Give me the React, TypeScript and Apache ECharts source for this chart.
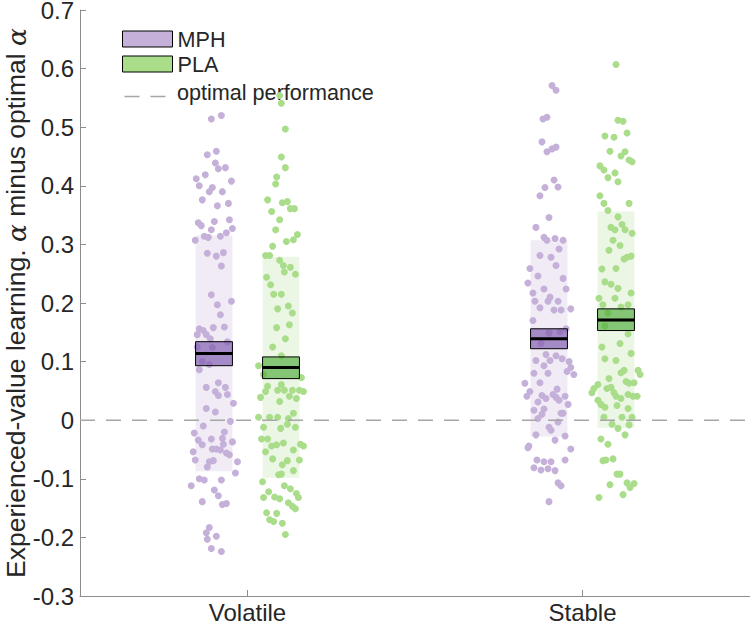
import React, { useEffect, useRef } from 'react';
import * as echarts from 'echarts';

const categories = ['Volatile', 'Stable'];
const categoryPositions = [1, 2];
const groupNames = ['MPH', 'PLA'];
const groupOffsets = [-0.1, 0.1];
const referenceLabel = 'optimal performance';
const referenceValue = 0;

// summary statistics [category][group]
const means = [[0.114, 0.09], [0.139, 0.171]];
const semLow = [[0.093, 0.071], [0.122, 0.153]];
const semHigh = [[0.134, 0.108], [0.156, 0.19]];
const sdLow = [[-0.087, -0.098], [-0.028, -0.013]];
const sdHigh = [[0.315, 0.279], [0.307, 0.356]];

// individual subjects: [jitter offset, value]
const volatileMPH = [
  [-0.008, 0.514], [0.022, 0.52], [-0.02, 0.453], [0.007, 0.459], [0.004, 0.439], [0.013, 0.429], [0.034, 0.431],
  [-0.026, 0.419], [-0.053, 0.412], [0.052, 0.408], [-0.044, 0.4], [-0.005, 0.397], [-0.014, 0.39], [0.025, 0.39],
  [-0.035, 0.376], [0.01, 0.366], [0.043, 0.37], [-0.047, 0.337], [-0.038, 0.332], [0.001, 0.339], [0.046, 0.342],
  [-0.008, 0.325], [0.055, 0.327], [0.037, 0.32], [-0.056, 0.307], [-0.029, 0.314], [-0.017, 0.312], [0.019, 0.314],
  [-0.02, 0.285], [0.007, 0.28], [0.028, 0.286], [0.022, 0.263], [-0.008, 0.214], [0.01, 0.197], [0.052, 0.203],
  [0.019, 0.18], [-0.044, 0.156], [-0.032, 0.153], [-0.002, 0.158], [0.031, 0.159], [-0.05, 0.146], [-0.023, 0.146],
  [-0.011, 0.139], [-0.05, 0.125], [-0.005, 0.124], [0.04, 0.134], [-0.035, 0.1], [-0.014, 0.095], [-0.044, 0.086],
  [0.013, 0.064], [-0.023, 0.056], [0.034, 0.056], [0.004, 0.049], [0.013, 0.042], [0.04, 0.044], [0.058, 0.029],
  [-0.023, 0.02], [0.004, 0.014], [0.049, -0.002], [-0.032, -0.01], [-0.059, -0.022], [0.031, -0.02], [-0.047, -0.034],
  [-0.035, -0.042], [-0.008, -0.032], [0.025, -0.031], [0.055, -0.037], [0.028, -0.041], [-0.062, -0.054], [-0.005, -0.049],
  [0.007, -0.049], [0.019, -0.051], [0.037, -0.056], [0.046, -0.059], [-0.056, -0.068], [-0.014, -0.071], [-0.002, -0.069],
  [-0.02, -0.08], [0.07, -0.071], [0.064, -0.09], [-0.044, -0.1], [-0.029, -0.102], [0.022, -0.102], [-0.068, -0.112],
  [0.001, -0.119], [0.013, -0.129], [-0.035, -0.139], [0.025, -0.144], [0.037, -0.142], [-0.014, -0.183], [-0.023, -0.192],
  [0.007, -0.198], [-0.02, -0.203], [-0.008, -0.219], [0.022, -0.224],
];

const volatilePLA = [
  [-0.004, 0.554], [0.001, 0.541], [0.013, 0.497], [0.001, 0.449], [0.013, 0.431], [-0.013, 0.415], [-0.016, 0.403],
  [-0.04, 0.376], [0.004, 0.371], [0.019, 0.373], [-0.028, 0.356], [0.028, 0.361], [0.04, 0.361], [-0.004, 0.342],
  [-0.016, 0.325], [0.049, 0.317], [0.037, 0.308], [0.016, 0.305], [-0.025, 0.297], [-0.046, 0.281], [-0.034, 0.281],
  [-0.004, 0.273], [0.007, 0.264], [0.028, 0.261], [0.01, 0.253], [0.043, 0.249], [-0.043, 0.244], [-0.031, 0.231],
  [-0.022, 0.215], [0.001, 0.215], [-0.01, 0.19], [0.022, 0.195], [0.034, 0.183], [-0.013, 0.158], [0.025, 0.163],
  [0.013, 0.139], [-0.025, 0.125], [0.001, 0.11], [-0.067, 0.093], [-0.052, 0.078], [0.061, 0.073], [-0.04, 0.058],
  [0.001, 0.061], [-0.046, 0.049], [-0.061, 0.039], [-0.01, 0.051], [0.01, 0.051], [0.034, 0.051], [0.055, 0.051],
  [0.067, 0.049], [0.025, 0.041], [0.046, 0.037], [-0.004, 0.032], [0.037, 0.012], [0.022, 0.003], [-0.067, 0.005],
  [-0.034, 0.005], [-0.01, 0.005], [-0.052, -0.012], [-0.001, -0.014], [0.019, -0.007], [0.043, -0.012], [-0.058, -0.032],
  [-0.04, -0.032], [0.007, -0.039], [-0.028, -0.044], [-0.013, -0.042], [0.058, -0.041], [0.067, -0.044], [0.037, -0.051],
  [-0.046, -0.054], [-0.025, -0.066], [0.055, -0.068], [0.019, -0.069], [0.004, -0.076], [0.037, -0.086], [-0.007, -0.093],
  [0.001, -0.092], [-0.055, -0.105], [0.01, -0.112], [0.028, -0.117], [-0.037, -0.122], [0.046, -0.125], [-0.052, -0.132],
  [-0.019, -0.131], [-0.004, -0.134], [0.052, -0.132], [0.022, -0.141], [0.034, -0.147], [0.043, -0.151], [-0.043, -0.158],
  [-0.013, -0.159], [-0.034, -0.17], [-0.022, -0.173], [0.004, -0.176], [0.013, -0.195],
];

const stableMPH = [
  [0.009, 0.571], [0.021, 0.563], [-0.018, 0.514], [-0.006, 0.517], [-0.021, 0.475], [-0.006, 0.458], [0.009, 0.463],
  [0.021, 0.466], [0.015, 0.41], [-0.012, 0.397], [0.027, 0.398], [-0.027, 0.383], [0.0, 0.346], [-0.039, 0.329],
  [-0.015, 0.312], [-0.006, 0.307], [0.018, 0.31], [0.042, 0.307], [0.03, 0.292], [-0.027, 0.281], [0.006, 0.278],
  [0.021, 0.264], [-0.057, 0.259], [-0.033, 0.246], [0.042, 0.242], [-0.063, 0.234], [-0.015, 0.224], [0.051, 0.224],
  [-0.048, 0.217], [0.003, 0.21], [-0.003, 0.203], [-0.042, 0.203], [0.027, 0.203], [-0.027, 0.192], [0.015, 0.188],
  [0.036, 0.188], [0.065, 0.19], [-0.048, 0.17], [0.051, 0.156], [0.0, 0.149], [0.033, 0.151], [-0.024, 0.131],
  [-0.009, 0.112], [0.021, 0.11], [0.039, 0.105], [-0.039, 0.102], [0.003, 0.102], [0.06, 0.1], [-0.015, 0.093],
  [0.065, 0.09], [0.054, 0.083], [-0.045, 0.08], [-0.003, 0.08], [0.074, 0.078], [-0.072, 0.063], [-0.027, 0.064],
  [-0.057, 0.049], [0.024, 0.053], [-0.066, 0.041], [-0.021, 0.042], [-0.009, 0.037], [0.012, 0.044], [0.021, 0.039],
  [0.048, 0.041], [0.03, 0.034], [-0.033, 0.031], [0.057, 0.027], [-0.045, 0.017], [-0.015, 0.019], [-0.021, 0.01],
  [0.036, 0.012], [-0.033, 0.003], [0.042, 0.012], [0.027, -0.003], [0.0, -0.012], [0.006, -0.017], [-0.039, -0.025],
  [0.048, -0.027], [0.018, -0.034], [-0.06, -0.044], [-0.063, -0.047], [0.065, -0.049], [-0.036, -0.068], [0.048, -0.068],
  [-0.015, -0.071], [0.006, -0.071], [-0.045, -0.081], [-0.024, -0.085], [-0.003, -0.083], [0.018, -0.086], [0.027, -0.107],
  [0.036, -0.112], [0.0, -0.139],
];

const stablePLA = [
  [0.0, 0.607], [0.006, 0.512], [0.021, 0.51], [-0.033, 0.485], [-0.006, 0.483], [0.033, 0.49], [-0.018, 0.459],
  [0.027, 0.458], [0.015, 0.451], [0.039, 0.444], [0.048, 0.441], [-0.048, 0.434], [-0.036, 0.427], [-0.003, 0.422],
  [-0.024, 0.414], [0.006, 0.407], [-0.048, 0.383], [-0.036, 0.37], [0.039, 0.37], [-0.024, 0.358], [0.006, 0.347],
  [0.018, 0.334], [-0.015, 0.329], [-0.003, 0.325], [0.027, 0.325], [0.048, 0.319], [-0.009, 0.307], [0.012, 0.298],
  [-0.021, 0.29], [0.024, 0.275], [0.033, 0.278], [0.045, 0.28], [-0.042, 0.258], [0.0, 0.259], [-0.033, 0.236],
  [-0.015, 0.232], [0.006, 0.225], [0.045, 0.217], [-0.051, 0.208], [-0.003, 0.208], [-0.039, 0.197], [0.015, 0.193],
  [0.036, 0.197], [-0.024, 0.183], [-0.033, 0.161], [0.036, 0.147], [0.012, 0.131], [-0.042, 0.125], [0.045, 0.114],
  [-0.033, 0.105], [0.0, 0.102], [0.024, 0.085], [0.015, 0.081], [0.066, 0.085], [0.072, 0.078], [-0.021, 0.071],
  [0.03, 0.066], [0.039, 0.063], [0.054, 0.064], [-0.054, 0.061], [-0.066, 0.054], [-0.072, 0.047], [-0.027, 0.054],
  [-0.015, 0.056], [-0.006, 0.047], [0.0, 0.041], [0.015, 0.037], [0.036, 0.044], [0.051, 0.041], [0.063, 0.041],
  [-0.054, 0.034], [-0.045, 0.027], [-0.033, 0.022], [0.003, 0.025], [0.036, 0.02], [-0.036, 0.005], [0.018, 0.005],
  [0.048, 0.005], [-0.012, -0.007], [0.006, -0.014], [0.039, -0.008], [0.027, -0.025], [-0.045, -0.032], [-0.024, -0.041],
  [-0.039, -0.069], [-0.03, -0.068], [-0.009, -0.066], [0.003, -0.092], [0.012, -0.092], [-0.018, -0.11], [0.033, -0.107],
  [0.042, -0.115], [0.054, -0.108], [0.021, -0.127], [-0.051, -0.132],
];

const pointSets = [
  [volatileMPH, volatilePLA],
  [stableMPH, stablePLA],
];

const pointColors = ['#c4b0d9', '#a9dd8a'];
const sdColors = ['#f0ebf5', '#ebf6e4'];
const semColors = ['rgba(128,92,175,0.68)', 'rgba(70,168,48,0.62)'];
const refLineColor = '#a6a6a6';
const boxHalfWidth = 0.055;
const fontFamily = "'Liberation Sans', Arial, Helvetica, sans-serif";
const textColor = '#262626';
const axisColor = '#8c8c8c';

export default function App() {
  const ref = useRef<HTMLDivElement>(null);

  useEffect(() => {
    if (!ref.current) return;
    const chart = echarts.init(ref.current, undefined, { renderer: 'svg' });

    const scatterSeries = groupNames.map((name, g) => ({
      type: 'scatter',
      name,
      z: 3,
      symbol: 'circle',
      symbolSize: 7,
      itemStyle: { color: pointColors[g], opacity: 1 },
      emphasis: { disabled: true },
      data: categoryPositions.flatMap((pos, c) =>
        pointSets[c][g].map(([dx, y]) => [pos + groupOffsets[g] + dx, y])
      ),
    }));

    const sdSeries = groupNames.map((name, g) => ({
      type: 'custom',
      name: 'sd-' + name,
      z: 1,
      silent: true,
      data: categoryPositions.map((pos, c) => [pos + groupOffsets[g], sdLow[c][g], sdHigh[c][g]]),
      encode: { x: 0, y: [1, 2] },
      renderItem: (_p: any, api: any) => {
        const x = api.value(0);
        const a = api.coord([x - boxHalfWidth, api.value(2)]);
        const b = api.coord([x + boxHalfWidth, api.value(1)]);
        return {
          type: 'rect',
          shape: { x: a[0], y: a[1], width: b[0] - a[0], height: b[1] - a[1] },
          style: { fill: sdColors[g] },
        };
      },
    }));

    const semSeries = groupNames.map((name, g) => ({
      type: 'custom',
      name: 'sem-' + name,
      z: 5,
      silent: true,
      data: categoryPositions.map((pos, c) => [pos + groupOffsets[g], semLow[c][g], semHigh[c][g], means[c][g]]),
      encode: { x: 0, y: [1, 2, 3] },
      renderItem: (_p: any, api: any) => {
        const x = api.value(0);
        const a = api.coord([x - boxHalfWidth, api.value(2)]);
        const b = api.coord([x + boxHalfWidth, api.value(1)]);
        const m = api.coord([x, api.value(3)]);
        return {
          type: 'group',
          children: [
            {
              type: 'rect',
              shape: { x: a[0], y: a[1], width: b[0] - a[0], height: b[1] - a[1] },
              style: { fill: semColors[g], stroke: '#000', lineWidth: 1 },
            },
            {
              type: 'line',
              shape: { x1: a[0], y1: m[1], x2: b[0], y2: m[1] },
              style: { stroke: '#000', lineWidth: 3 },
            },
          ],
        };
      },
    }));

    const option: any = {
      animation: false,
      textStyle: { fontFamily },
      grid: { left: 80, right: 0, top: 10, bottom: 31, containLabel: false, outerBoundsMode: 'none' },
      legend: {
        orient: 'vertical',
        left: 122,
        top: 28,
        itemWidth: 50,
        itemHeight: 16,
        itemGap: 3,
        padding: 0,
        selectedMode: false,
        textStyle: { fontSize: 21.6, color: textColor, fontFamily },
        data: [
          { name: 'MPH', icon: 'rect', itemStyle: { color: pointColors[0], borderColor: '#000', borderWidth: 1 } },
          { name: 'PLA', icon: 'rect', itemStyle: { color: pointColors[1], borderColor: '#000', borderWidth: 1 } },
        ],
      },
      graphic: [
        {
          type: 'line',
          left: 122,
          top: 94,
          shape: { x1: 0, y1: 0, x2: 41, y2: 0 },
          style: { stroke: refLineColor, lineWidth: 1.5, lineDash: [15, 11] },
          silent: true,
        },
        {
          type: 'text',
          left: 177,
          top: 81,
          style: { text: referenceLabel, fontSize: 21.6, fill: textColor, fontFamily },
          silent: true,
        },
      ],
      xAxis: {
        type: 'value',
        min: 0.5,
        max: 2.5,
        splitLine: { show: false },
        axisLine: { show: true, onZero: false, lineStyle: { color: axisColor, width: 1 } },
        axisTick: { show: true, inside: true, length: 6, customValues: categoryPositions, lineStyle: { color: axisColor } },
        axisLabel: {
          customValues: categoryPositions,
          formatter: (v: number) => categories[categoryPositions.indexOf(Math.round(v))] ?? '',
          fontSize: 24,
          color: textColor,
          fontFamily,
          margin: 4,
        },
      },
      yAxis: {
        type: 'value',
        min: -0.3,
        max: 0.7,
        interval: 0.1,
        splitLine: { show: false },
        axisLine: { show: true, onZero: false, lineStyle: { color: axisColor, width: 1 } },
        axisTick: { show: true, inside: true, length: 6, lineStyle: { color: axisColor } },
        axisLabel: {
          fontSize: 24,
          lineHeight: 18,
          color: textColor,
          fontFamily,
          margin: 6,
          formatter: (v: number) => {
            const r = Math.round(v * 10) / 10;
            return r === 0 ? '0' : String(r);
          },
        },
        name: 'Experienced-value learning. {a|α} minus optimal {a|α}',
        nameLocation: 'middle',
        nameGap: 52,
        nameMoveOverlap: false,
        nameTextStyle: {
          fontSize: 26.5,
          lineHeight: 24,
          color: textColor,
          fontFamily,
          rich: {
            a: { fontSize: 26.5, lineHeight: 24, fontFamily: "'DejaVu Serif', serif", fontStyle: 'italic', color: textColor },
          },
        },
      },
      series: [
        ...sdSeries,
        ...scatterSeries,
        {
          type: 'line',
          name: referenceLabel,
          z: 4,
          silent: true,
          symbol: 'none',
          data: [[0.5, referenceValue], [2.5, referenceValue]],
          lineStyle: { color: refLineColor, width: 1.5, type: [15, 11] },
          itemStyle: { color: refLineColor },
        },
        ...semSeries,
      ],
    };

    chart.setOption(option);
    return () => chart.dispose();
  }, []);

  return (
    <div
      ref={ref}
      style={{ position: 'fixed', left: 0, top: 0, width: 750, height: 627, background: '#fff' }}
    />
  );
}
